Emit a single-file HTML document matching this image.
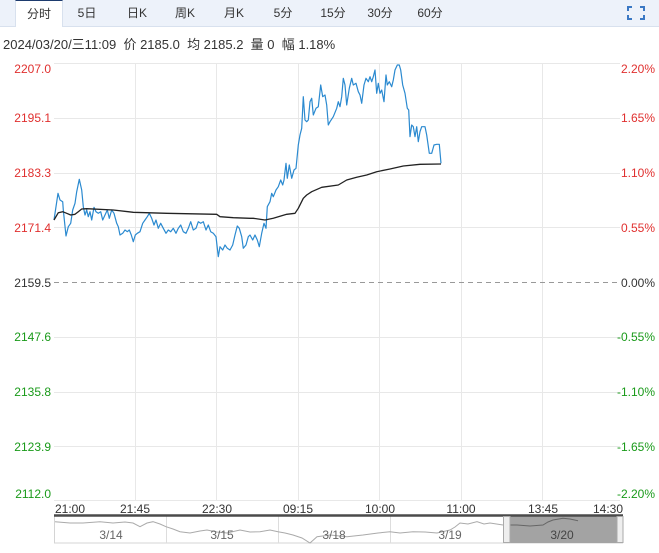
<!DOCTYPE html>
<html><head><meta charset="utf-8"><style>
html,body{margin:0;padding:0;background:#fff;}
body{width:659px;height:553px;overflow:hidden;position:relative;font-family:"Liberation Sans","Noto Sans CJK SC",sans-serif;}
.bar{position:absolute;left:0;top:0;width:659px;height:26px;background:#edf2fa;border-bottom:1px solid #d8e1ee;}
.tab{position:absolute;top:0;height:26px;line-height:27px;font-size:12px;color:#333;text-align:center;}
.act{background:#fff;border-top:1px solid #1d3b6e;border-left:1px solid #d8e1ee;border-right:1px solid #d8e1ee;height:26px;top:0;line-height:26px;}
.info{position:absolute;left:3px;top:34px;font-size:13px;color:#333;white-space:nowrap;}
</style></head><body>
<div class="bar"></div>
<div class="tab act" style="left:15px;width:46px;">分时</div>
<div class="tab" style="left:67px;width:40px;">5日</div>
<div class="tab" style="left:117px;width:40px;">日K</div>
<div class="tab" style="left:165px;width:40px;">周K</div>
<div class="tab" style="left:214px;width:40px;">月K</div>
<div class="tab" style="left:263px;width:40px;">5分</div>
<div class="tab" style="left:313px;width:40px;">15分</div>
<div class="tab" style="left:360px;width:40px;">30分</div>
<div class="tab" style="left:410px;width:40px;">60分</div>
<svg style="position:absolute;left:627px;top:6px" width="18" height="14" viewBox="0 0 18 14">
<path d="M1 5V1H5M13 1H17V5M17 9V13H13M5 13H1V9" fill="none" stroke="#3a78c4" stroke-width="2"/>
</svg>
<div class="info">2024/03/20/三11:09&nbsp; 价 2185.0&nbsp; 均 2185.2&nbsp; 量 0&nbsp; 幅 1.18%</div>
<svg style="position:absolute;left:0;top:0" width="659" height="553" viewBox="0 0 659 553">
<g stroke="#e8e8e8" stroke-width="1" fill="none">
<line x1="54" y1="63.5" x2="620" y2="63.5"/>
<line x1="54" y1="118.5" x2="620" y2="118.5"/>
<line x1="54" y1="173.5" x2="620" y2="173.5"/>
<line x1="54" y1="227.5" x2="620" y2="227.5"/>
<line x1="54" y1="337.5" x2="620" y2="337.5"/>
<line x1="54" y1="392.5" x2="620" y2="392.5"/>
<line x1="54" y1="446.5" x2="620" y2="446.5"/>
<line x1="54" y1="500.5" x2="620" y2="500.5"/>
<line x1="135.5" y1="63" x2="135.5" y2="501"/>
<line x1="216.5" y1="63" x2="216.5" y2="501"/>
<line x1="298.5" y1="63" x2="298.5" y2="501"/>
<line x1="379.5" y1="63" x2="379.5" y2="501"/>
<line x1="461.5" y1="63" x2="461.5" y2="501"/>
<line x1="542.5" y1="63" x2="542.5" y2="501"/>
</g>
<line x1="54" y1="282.5" x2="620" y2="282.5" stroke="#999" stroke-dasharray="5,4"/>
<g font-size="12" text-anchor="end" font-family="Liberation Sans, sans-serif">
<text x="51" y="73" fill="#e0302f">2207.0</text>
<text x="51" y="122" fill="#e0302f">2195.1</text>
<text x="51" y="177" fill="#e0302f">2183.3</text>
<text x="51" y="232" fill="#e0302f">2171.4</text>
<text x="51" y="287" fill="#333">2159.5</text>
<text x="51" y="341" fill="#1a9a1a">2147.6</text>
<text x="51" y="396" fill="#1a9a1a">2135.8</text>
<text x="51" y="451" fill="#1a9a1a">2123.9</text>
<text x="51" y="498" fill="#1a9a1a">2112.0</text>
<text x="655" y="73" fill="#e0302f">2.20%</text>
<text x="655" y="122" fill="#e0302f">1.65%</text>
<text x="655" y="177" fill="#e0302f">1.10%</text>
<text x="655" y="232" fill="#e0302f">0.55%</text>
<text x="655" y="287" fill="#333">0.00%</text>
<text x="655" y="341" fill="#1a9a1a">-0.55%</text>
<text x="655" y="396" fill="#1a9a1a">-1.10%</text>
<text x="655" y="451" fill="#1a9a1a">-1.65%</text>
<text x="655" y="498" fill="#1a9a1a">-2.20%</text>
</g>
<polyline fill="none" stroke="#2b8ad0" stroke-width="1.2" stroke-linejoin="round" points="54,220 58,193.3 60,200 62.7,201.7 63.3,210 66,236 68.3,226.7 70.7,223.3 72.7,210 75,203.3 76.7,191.7 79.3,179.3 81.7,190 83.3,206.7 85,215 86.7,210 88.3,216.7 90,211.7 91.7,220 94,207.3 96,211.7 98.3,213.3 100.7,211.7 102.7,220 105,215 107.3,210 109.3,218.3 111.7,210 114,213.3 116.7,223.3 118.3,226.7 120,235 122.7,233.3 125,230 127.3,231.7 129.3,230 131.3,235 133.3,241.7 135.3,235 137.3,233.3 140,231.7 142.7,223.3 145,220 147.3,216.7 149.3,213.3 151.7,218.3 154,225 156,220 158.3,228.3 160.7,223.3 163.3,228.3 166,233.3 168.3,230 170.7,231.7 173.3,228.3 176,233.3 178.3,228.3 180.7,225 183.3,231.7 186,233.3 188.3,228.3 190.7,221.7 193.3,230 196,228.3 198.3,221.7 200.7,223.3 203.3,221.7 206,230 208.3,225 210.7,231.7 213.3,233.3 216,236.7 218.3,256.7 220,246.7 222.7,250 225,245 227.3,248.3 230,250 232.7,245 235,235 237.3,226 239.3,228.3 241.7,236.7 243.3,248.3 246,245 248.3,236.7 250,235 252.7,240 255,235 257.3,240 259.3,246.7 261.7,233.3 264,223.3 266,228.3 267.3,206.7 270,201.7 271.7,193.3 273.3,196.7 276,190 278.3,186.7 280.7,180 282.7,185 284,180 286,163.3 287.3,178.3 289.3,165 291.7,178.3 294,170 296,168.3 298.3,145 300,135 301.7,128.3 303.3,96.7 305,120 306.7,121.7 308.3,120 310,101.7 311.7,98.3 313.3,115 316,108.3 318.3,106.7 320.7,85 322.7,96.7 325,95 326.7,105 328.3,125 330,121.7 333.3,116.7 336.7,108.3 338.3,101.7 340,106.7 341.7,96.7 343.3,78.3 345,85 346.7,105 349.3,88.3 351.7,78.3 353.3,85 356,83.3 358.3,91.7 360,95 361.7,103.3 364,85 366,78.3 368.3,81.7 370,76.7 371.7,81.7 373.3,76.7 375,70 376.7,93.3 378.3,83.3 380,93.3 381.7,90 384,101.7 386,75 387.3,85 389.3,81.7 391.7,86.7 393.3,80 395,70 397.3,65 399.3,65 400.7,70 402.7,85 405,93.3 407.3,108.3 408.7,110 410,136.7 411.7,125 413.3,126.7 415,136.7 416.7,126.7 418.3,141.7 420,131.7 421.7,126.7 423.3,126.7 425,126.7 426.7,135 429.3,153.3 431.7,153.3 434,145 436.7,144.3 439.3,144.3 441,163.3"/>
<polyline fill="none" stroke="#222" stroke-width="1.3" stroke-linejoin="round" points="54,220 58.3,212.7 62.7,211.7 66.7,213.3 70.7,215 75,214.3 78.3,211.7 81.7,209 86.7,208.7 113.3,210 133.3,212.3 166.7,213.3 216.7,214.3 220,216.7 233.3,217.7 250,218.3 253.3,218.3 265,220 273.3,218.3 286.7,214.3 295,213.3 298.3,208.3 303.3,198.3 306.7,195 311.7,191.7 321.7,187.3 338.3,185 346.7,180 356.7,177.3 366.7,175 376.7,171.7 390,169 403.3,166 420,164.3 441,164"/>
<g font-size="12" fill="#333" font-family="Liberation Sans, sans-serif">
<text x="55" y="513">21:00</text>
<text x="135" y="513" text-anchor="middle">21:45</text>
<text x="217" y="513" text-anchor="middle">22:30</text>
<text x="298" y="513" text-anchor="middle">09:15</text>
<text x="380" y="513" text-anchor="middle">10:00</text>
<text x="461" y="513" text-anchor="middle">11:00</text>
<text x="543" y="513" text-anchor="middle">13:45</text>
<text x="623" y="513" text-anchor="end">14:30</text>
</g>
<rect x="54.5" y="516" width="568" height="27" fill="#fff" stroke="#d4d4d4"/>
<rect x="510" y="516" width="107" height="27" fill="#a3a3a3"/>
<g stroke="#ddd"><line x1="166.5" y1="516" x2="166.5" y2="543"/><line x1="278.5" y1="516" x2="278.5" y2="543"/><line x1="390.5" y1="516" x2="390.5" y2="543"/></g>
<line x1="54" y1="515.5" x2="623" y2="515.5" stroke="#4a4a4a" stroke-width="2.5"/>
<polyline fill="none" stroke="#aaa" stroke-width="1" points="55,521.7 70,523 83,523 100,521.7 113,523 125,522 133,523 140,526.7 147,523 153,521.7 160,524 166,526.7 173,529 180,531.7 190,533 200,531 207,530 217,532 227,533 240,530 250,532 260,531.7 270,530 278,531.7 285,533 293,535 302,538 310,543 317,536.7 330,535 347,536.7 363,535 378,533 390,531.7 400,533 413,531.7 425,532 437,533 450,530 455,527 460,523 468,524 477,521.7 484,524 490,523 503,525"/>
<polyline fill="none" stroke="#666" stroke-width="1" points="510,525 517,525 530,526 543,525 548,522 553,520 563,518.3 570,519 578,520.7"/>
<g font-size="12" fill="#666" text-anchor="middle" font-family="Liberation Sans, sans-serif">
<text x="111" y="539">3/14</text>
<text x="222" y="539">3/15</text>
<text x="334" y="539">3/18</text>
<text x="450" y="539">3/19</text>
<text x="562" y="539" fill="#444">3/20</text>
</g>
<rect x="503.5" y="516.5" width="6.5" height="26" fill="#eee" stroke="#aaa"/>
<rect x="617" y="516.5" width="6" height="26" fill="#eee" stroke="#aaa"/>
</svg>
</body></html>
